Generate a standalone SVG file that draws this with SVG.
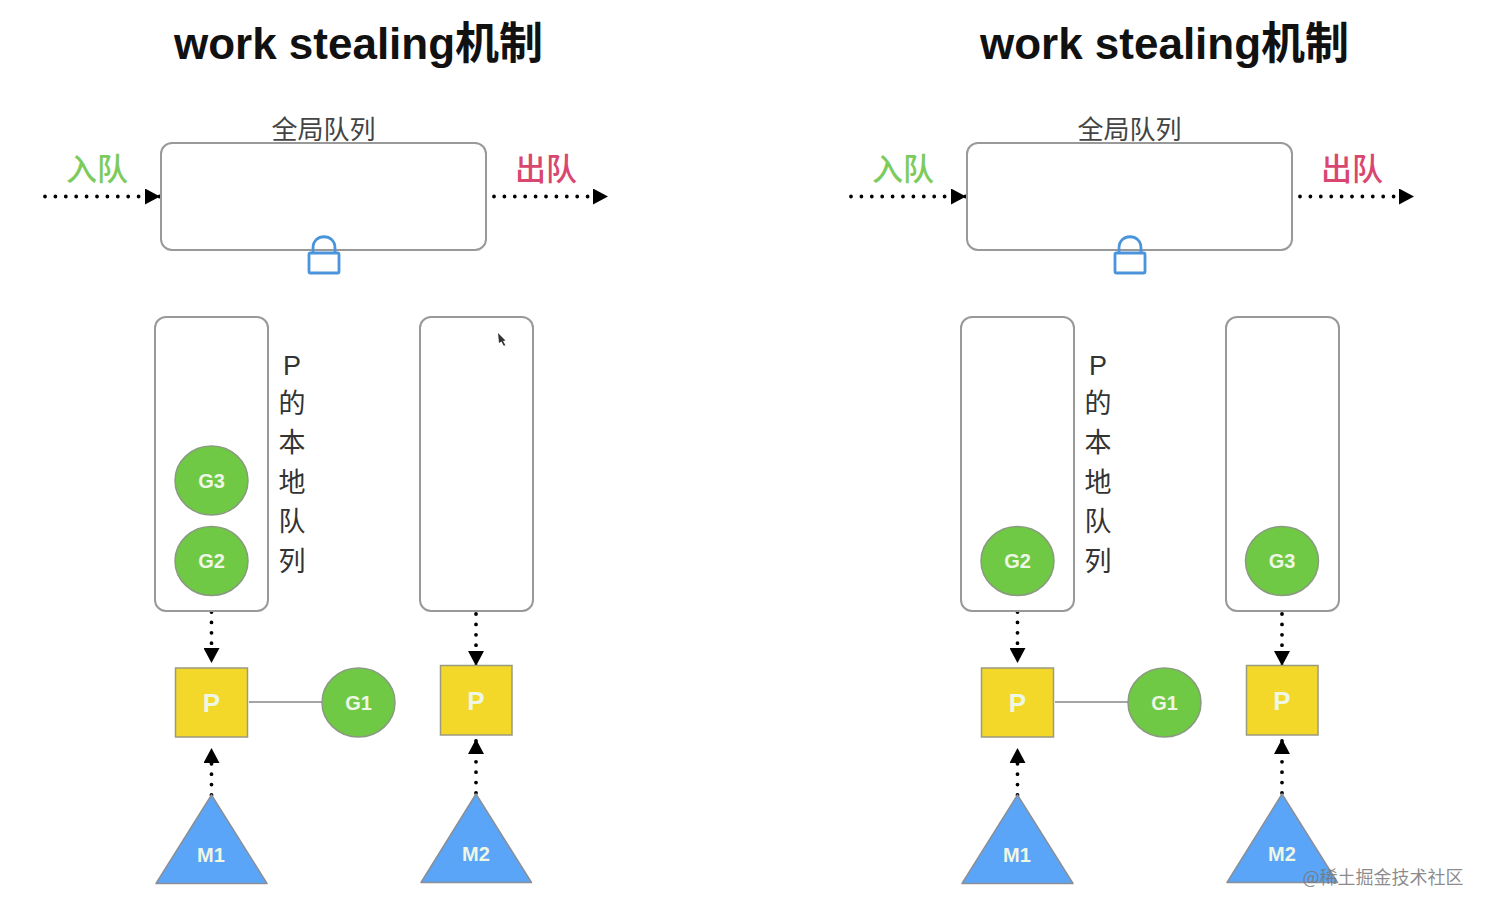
<svg xmlns="http://www.w3.org/2000/svg" width="1488" height="912" viewBox="0 0 1488 912">
<style>
text{font-family:"Liberation Sans","Noto Sans CJK SC",sans-serif;text-anchor:middle}
.cjk{font-family:"Noto Sans CJK SC","Liberation Sans",sans-serif;font-weight:400}
.title{font-size:44px;font-weight:700;fill:#111}
.h{font-size:26px;fill:#444}
.side{font-size:27px;fill:#333}
.in{font-size:31px;fill:#7ccb5c;font-weight:500}
.out{font-size:31px;fill:#d9466f;font-weight:500}
.box{fill:#fff;stroke:#999;stroke-width:2}
.lab{fill:#eef6e4;font-weight:700;font-size:20px}
.big{font-size:26px}
.g{fill:#6fc944;stroke:#8a9a80;stroke-width:1.5}
.p{fill:#f3d829;stroke:#9a9a80;stroke-width:1.5}
.m{fill:#5aa5f7;stroke:#8a8f98;stroke-width:1.5;stroke-linejoin:round}
.dot{fill:none;stroke:#000;stroke-width:3.8;stroke-linecap:round;stroke-dasharray:0 10.4;marker-end:url(#tip)}
.solid{stroke:#a5a5a5;stroke-width:2}
.lock{fill:none;stroke:#4a94dc;stroke-width:2.8}
</style>
<defs>
<marker id="tip" markerUnits="userSpaceOnUse" markerWidth="16" markerHeight="16" refX="15" refY="8" orient="auto"><path d="M0 0L15 8L0 16Z" fill="#000"/></marker>
</defs>
<rect width="1488" height="912" fill="#fff"/>

<g id="connectors">
<path class="dot" d="M45 196.500H160"/><path class="dot" d="M494 196.500H608"/>
<path class="dot" d="M211.500 612V663"/><path class="dot" d="M211.500 795V748"/>
<path class="dot" d="M476 614V666"/><path class="dot" d="M476 793V739"/>
<path class="solid" d="M249 702H322"/>
<path class="dot" d="M851 196.500H966"/><path class="dot" d="M1300 196.500H1414"/>
<path class="dot" d="M1017.500 612V663"/><path class="dot" d="M1017.500 795V748"/>
<path class="dot" d="M1282 614V666"/><path class="dot" d="M1282 793V739"/>
<path class="solid" d="M1055 702H1128"/>
</g>

<text class="title" x="358.500" y="59">work stealing机制</text>
<text class="title" x="1164.500" y="59">work stealing机制</text>

<g id="global-queue-left">
<rect class="box" x="161" y="143" width="325" height="107" rx="11"/>
<text class="h cjk" x="323.500" y="139">全局队列</text>
</g>
<g id="enqueue-left"><text class="in cjk" x="97" y="180">入队</text></g>
<g id="dequeue-left"><text class="out cjk" x="546" y="180">出队</text></g>
<g id="lock-left">
<path class="lock" d="M313 253V248C313 233 335 233 335 248V253"/>
<rect class="lock" x="309" y="253" width="30" height="20" rx="1.500"/>
</g>
<g id="local-queue-left-1"><rect class="box" x="155" y="317" width="113" height="294" rx="11"/></g>
<g id="local-queue-label-left">
<text class="side" x="292" y="375">P</text>
<text class="side cjk" x="292" y="413">的</text>
<text class="side cjk" x="292" y="452">本</text>
<text class="side cjk" x="292" y="492">地</text>
<text class="side cjk" x="292" y="531">队</text>
<text class="side cjk" x="292" y="571">列</text>
</g>
<g id="local-queue-left-2"><rect class="box" x="420" y="317" width="113" height="294" rx="11"/></g>
<path id="cursor" d="M498 333L505.500 340.500L503 341L505.500 345.500L503.500 345.500L501.500 341.500L499 343Z" fill="#333"/>
<g id="g3-left"><ellipse class="g" cx="211.500" cy="480.500" rx="36.500" ry="34.500"/><text class="lab" x="211.500" y="487.500">G3</text></g>
<g id="g2-left"><ellipse class="g" cx="211.500" cy="561" rx="36.500" ry="34.500"/><text class="lab" x="211.500" y="568">G2</text></g>
<g id="p1-left"><rect class="p" x="175.500" y="668" width="72" height="69"/><text class="lab big" x="211.500" y="712">P</text></g>
<g id="g1-left"><ellipse class="g" cx="358.500" cy="702.500" rx="36.500" ry="34.500"/><text class="lab" x="358.500" y="709.500">G1</text></g>
<g id="p2-left"><rect class="p" x="440.500" y="665.500" width="71.500" height="69.500"/><text class="lab big" x="476" y="710">P</text></g>
<g id="m1-left"><path class="m" d="M211.500 795L267 883.500H156Z"/><text class="lab" x="211" y="862">M1</text></g>
<g id="m2-left"><path class="m" d="M476 794L531.500 882.500H421Z"/><text class="lab" x="476" y="861">M2</text></g>

<g id="global-queue-right">
<rect class="box" x="967" y="143" width="325" height="107" rx="11"/>
<text class="h cjk" x="1129.500" y="139">全局队列</text>
</g>
<g id="enqueue-right"><text class="in cjk" x="903" y="180">入队</text></g>
<g id="dequeue-right"><text class="out cjk" x="1352" y="180">出队</text></g>
<g id="lock-right">
<path class="lock" d="M1119 253V248C1119 233 1141 233 1141 248V253"/>
<rect class="lock" x="1115" y="253" width="30" height="20" rx="1.500"/>
</g>
<g id="local-queue-right-1"><rect class="box" x="961" y="317" width="113" height="294" rx="11"/></g>
<g id="local-queue-label-right">
<text class="side" x="1098" y="375">P</text>
<text class="side cjk" x="1098" y="413">的</text>
<text class="side cjk" x="1098" y="452">本</text>
<text class="side cjk" x="1098" y="492">地</text>
<text class="side cjk" x="1098" y="531">队</text>
<text class="side cjk" x="1098" y="571">列</text>
</g>
<g id="local-queue-right-2"><rect class="box" x="1226" y="317" width="113" height="294" rx="11"/></g>
<g id="g2-right"><ellipse class="g" cx="1017.500" cy="561" rx="36.500" ry="34.500"/><text class="lab" x="1017.500" y="568">G2</text></g>
<g id="g3-right"><ellipse class="g" cx="1282" cy="561" rx="36.500" ry="34.500"/><text class="lab" x="1282" y="568">G3</text></g>
<g id="p1-right"><rect class="p" x="981.500" y="668" width="72" height="69"/><text class="lab big" x="1017.500" y="712">P</text></g>
<g id="g1-right"><ellipse class="g" cx="1164.500" cy="702.500" rx="36.500" ry="34.500"/><text class="lab" x="1164.500" y="709.500">G1</text></g>
<g id="p2-right"><rect class="p" x="1246.500" y="665.500" width="71.500" height="69.500"/><text class="lab big" x="1282" y="710">P</text></g>
<g id="m1-right"><path class="m" d="M1017.500 795L1073 883.500H962Z"/><text class="lab" x="1017" y="862">M1</text></g>
<g id="m2-right"><path class="m" d="M1282 794L1337.500 882.500H1227Z"/><text class="lab" x="1282" y="861">M2</text></g>

<text x="1383" y="884" class="cjk" style="font-size:18px;fill:#777;fill-opacity:.85">@稀土掘金技术社区</text>
</svg>
